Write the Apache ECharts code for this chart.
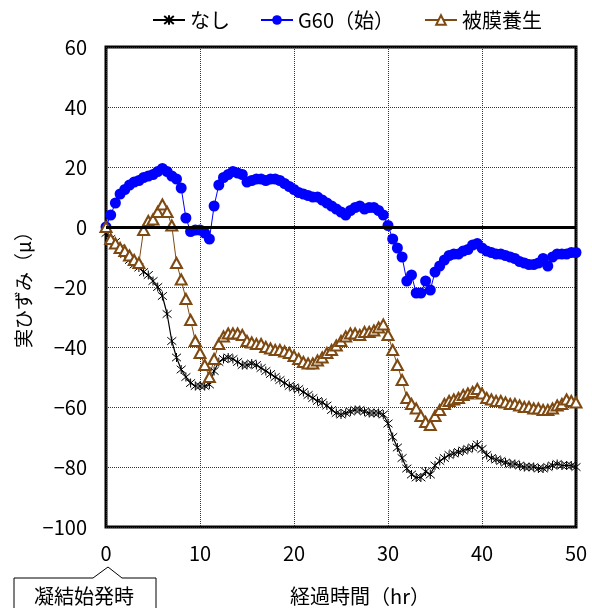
<!DOCTYPE html>
<html>
<head>
<meta charset="utf-8">
<script src="https://cdn.jsdelivr.net/npm/echarts@6/dist/echarts.min.js"></script>
<style>html,body{margin:0;padding:0;background:#fff;}#c{width:592px;height:608px;}</style>
</head>
<body>
<div id="c"></div>
<script>
// elapsed time (hr), every 0.5 hr from 0 to 50
var hours = [];
for (var i = 0; i <= 100; i++) { hours.push(i * 0.5); }

var seriesNames = ['なし', 'G60（始）', '被膜養生'];
var xTicks = [0, 10, 20, 30, 40, 50];
var yTicks = [-100, -80, -60, -40, -20, 0, 20, 40, 60];

// なし
var none = [
 -2, -4, -5, -7, -9, -11, -12.5, -13.5, -15, -16,
 -18, -20, -23, -29, -38, -43.5, -47.5, -50, -52, -53,
 -53, -53, -52.5, -48, -45, -44, -43.5, -44, -45, -46,
 -46, -45.5, -46, -47, -48, -49, -50, -51, -52, -53,
 -53.5, -54, -55, -56, -57, -58, -58.5, -59.5, -61, -62,
 -62.5, -62, -61.5, -61, -61, -61.5, -62, -62, -62, -62.5,
 -65.5, -70, -73.5, -77, -80.5, -82.5, -83.5, -83.5, -81.5, -82.5,
 -79.5, -78, -77, -76, -75.5, -75, -74.5, -74, -73.5, -72.5,
 -74, -76, -77, -77.5, -78, -78.5, -79, -79, -79.5, -80,
 -80, -80, -80.5, -80.5, -80, -79.5, -79, -79.5, -79.5, -79.5,
 -80
];

// G60（始）
var g60 = [
 0, 4, 8, 11, 12.5, 14, 15, 15.5, 16.5, 17,
 17.5, 18.5, 19.5, 18.5, 17, 16, 13, 3, -1.5, -1,
 -1, -2, -4, 7, 14, 16.5, 17.5, 18.5, 18, 17.5,
 15, 15.5, 16, 16, 15.5, 16, 16, 15.5, 14.5, 13.5,
 12.5, 11.5, 11, 10.5, 10, 10, 9, 8, 7, 6,
 5, 4, 5.5, 6.5, 7, 6, 6.5, 6.5, 5.5, 4,
 0.5, -4, -7, -10, -18, -16, -22, -22, -18, -21,
 -15, -13, -11, -9.5, -9, -9, -8, -7.5, -6, -5.5,
 -7, -8, -8.5, -9, -9, -9.5, -10, -10.5, -11.5, -12,
 -12.5, -12.5, -12, -10.5, -13, -10, -9, -9, -9, -8.5,
 -8.5
];

// 被膜養生
var coating = [
 0, -4, -5.5, -7, -8, -9.5, -11, -12, -1, 2,
 2.5, 5, 7.5, 5, 0.5, -12, -17.5, -24, -31, -38,
 -42, -46, -50, -44, -39, -36.5, -35.5, -35.5, -35.5, -36,
 -38, -38.5, -39, -39, -40, -40.5, -41, -41, -41.5, -42,
 -43, -44, -45, -45.5, -45.5, -44.5, -43.5, -42, -41, -39.5,
 -38, -36.5, -35.5, -35.5, -36, -35, -35, -34.5, -33.5, -32.5,
 -36, -41, -46, -51, -57, -59, -60.5, -63, -65, -66,
 -63, -61, -59, -58, -57.5, -57, -56, -55.5, -55, -54,
 -55.5, -57, -57.5, -58, -58, -58.5, -59, -59, -59.5, -60,
 -60, -60.5, -60.5, -61, -61, -60.5, -59.5, -59, -57.5, -58,
 -58.5
];

function pairs(vals) {
  return hours.map(function (h, k) { return [h, vals[k]]; });
}

var FONT = '"Noto Sans CJK JP", "Noto Sans", sans-serif';
var asterisk = 'path://M0,0L10,10M10,0L0,10M5,-1L5,11';
var brown = '#7F4A12';

var chart = echarts.init(document.getElementById('c'), null, {renderer: 'canvas'});
chart.setOption({
  animation: false,
  backgroundColor: '#fff',
  textStyle: {fontFamily: FONT},
  grid: {left: 106, right: 16, top: 47, bottom: 81, show: true, borderColor: '#000', borderWidth: 3, backgroundColor: 'transparent'},
  legend: {
    top: 5, left: 147, itemWidth: 32, itemHeight: 12, itemGap: 30,
    textStyle: {fontSize: 20, color: '#000', fontFamily: FONT},
    data: seriesNames
  },
  xAxis: {
    type: 'value', min: xTicks[0], max: xTicks[xTicks.length - 1], interval: 10,
    axisLine: {show: false}, axisTick: {show: false},
    axisLabel: {fontSize: 20, color: '#000', margin: 16, fontFamily: FONT},
    splitLine: {show: true, lineStyle: {color: '#333', type: [1, 1], width: 1}}
  },
  yAxis: {
    type: 'value', min: yTicks[0], max: yTicks[yTicks.length - 1], interval: 20,
    axisLine: {show: false}, axisTick: {show: false},
    axisLabel: {fontSize: 20, color: '#000', margin: 19, fontFamily: FONT,
      formatter: function (v) { return v < 0 ? '−' + Math.abs(v) : String(v); }},
    splitLine: {show: true, lineStyle: {color: '#333', type: [1, 1], width: 1}}
  },
  series: [
    {
      name: seriesNames[0], type: 'line', data: pairs(none),
      symbol: asterisk, symbolSize: 9,
      lineStyle: {color: '#000', width: 1.2},
      itemStyle: {color: '#000', borderColor: '#000', borderWidth: 1},
      clip: false,
      markLine: {
        silent: true, symbol: 'none', label: {show: false},
        lineStyle: {color: '#000', width: 3, type: 'solid'},
        data: [{yAxis: 0}]
      }
    },
    {
      name: seriesNames[1], type: 'line', data: pairs(g60),
      symbol: 'circle', symbolSize: 11,
      lineStyle: {color: '#0000FF', width: 1},
      itemStyle: {color: '#0000FF', borderWidth: 0},
      clip: false
    },
    {
      name: seriesNames[2], type: 'line', data: pairs(coating),
      symbol: 'emptyTriangle', symbolSize: [11, 10],
      lineStyle: {color: brown, width: 1},
      itemStyle: {color: brown, borderColor: brown, borderWidth: 1},
      clip: false
    }
  ],
  graphic: [
    {
      type: 'text', x: 24, y: 285, rotation: Math.PI / 2, z: 10,
      style: {text: '実ひずみ（μ）', fill: '#000', font: '19px ' + FONT, textAlign: 'center', textVerticalAlign: 'middle'}
    },
    {
      type: 'text', x: 360, y: 596, z: 10,
      style: {text: '経過時間（hr）', fill: '#000', font: '20px ' + FONT, textAlign: 'center', textVerticalAlign: 'middle'}
    },
    {
      type: 'polygon', z: 10,
      shape: {points: [[14, 614], [14, 578], [93, 578], [108, 567], [122, 578], [156, 578], [156, 614]]},
      style: {fill: '#fff', stroke: '#000', lineWidth: 1}
    },
    {
      type: 'text', x: 84, y: 596, z: 11,
      style: {text: '凝結始発時', fill: '#000', font: '20px ' + FONT, textAlign: 'center', textVerticalAlign: 'middle'}
    }
  ]
});
</script>
</body>
</html>
